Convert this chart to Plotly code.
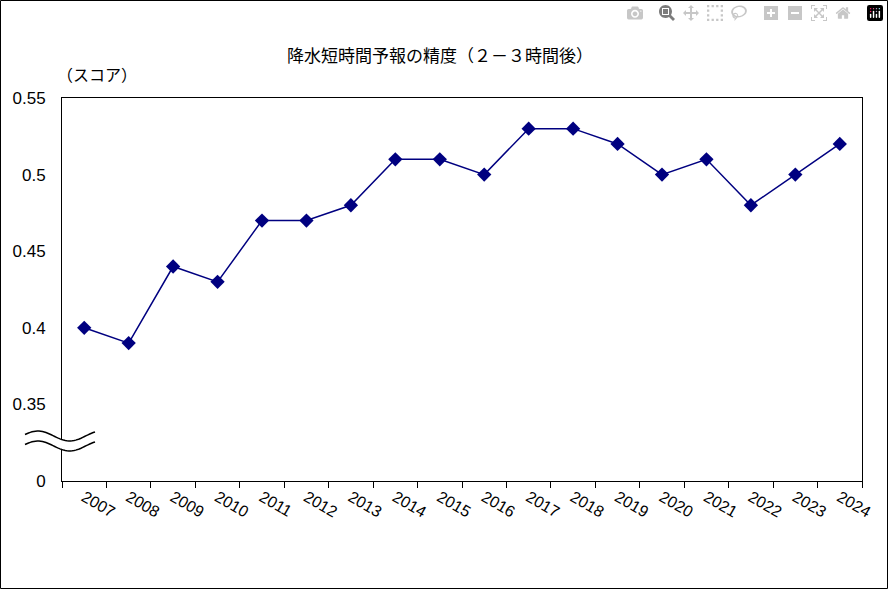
import plotly.graph_objects as go
import math

years = [str(y) for y in range(2007, 2025)]
scores = [0.40, 0.39, 0.44, 0.43, 0.47, 0.47, 0.48, 0.51, 0.51, 0.50,
          0.53, 0.53, 0.52, 0.50, 0.51, 0.48, 0.50, 0.52]
tick_vals = [0.30, 0.35, 0.40, 0.45, 0.50, 0.55]
tick_text = ["0", "0.35", "0.4", "0.45", "0.5", "0.55"]

W, H = 889, 590
L, R, T, B = 62, 27, 98, 109
pw, ph = W - L - R, H - T - B

def px(x):
    return (x - L) / pw

def py(y):
    return (H - B - y) / ph

fig = go.Figure(go.Scatter(
    x=years, y=scores, mode="lines+markers",
    line=dict(color="#000080", width=1.5),
    marker=dict(symbol="diamond", size=11, color="#000080"),
))

def wave(y0):
    pts = []
    for i in range(41):
        x = 25 + 70 * i / 40
        y = y0 - 5 * math.sin(2 * math.pi * (i / 40) * 1.1 + 0.3)
        pts.append((px(x), py(y)))
    return pts

w1 = wave(436)
w2 = wave(446)
fill_path = "M " + " L ".join(f"{a},{b}" for a, b in w1) + " L " + " L ".join(f"{a},{b}" for a, b in reversed(w2)) + " Z"
shapes = [
    dict(type="path", xref="paper", yref="paper", path=fill_path,
         fillcolor="white", line=dict(width=0)),
    dict(type="path", xref="paper", yref="paper",
         path="M " + " L ".join(f"{a},{b}" for a, b in w1), line=dict(color="black", width=1.5)),
    dict(type="path", xref="paper", yref="paper",
         path="M " + " L ".join(f"{a},{b}" for a, b in w2), line=dict(color="black", width=1.5)),
    dict(type="rect", xref="paper", yref="paper",
         x0=px(0.5), x1=px(W - 1.5), y0=py(H - 1.5), y1=py(0.5),
         line=dict(color="black", width=1)),
]

font = "Noto Sans CJK JP"
fig.update_layout(
    width=W, height=H, margin=dict(l=L, r=R, t=T, b=B),
    paper_bgcolor="white", plot_bgcolor="white", showlegend=False,
    font=dict(family=font, size=15, color="black"),
    shapes=shapes,
    annotations=[
        dict(text="降水短時間予報の精度（２－３時間後）", x=px(440), y=py(40),
             xref="paper", yref="paper", showarrow=False, font=dict(size=17)),
        dict(text="（スコア）", x=px(55), y=py(60), xref="paper", yref="paper",
             showarrow=False, font=dict(size=16)),
    ],
    xaxis=dict(type="category", showline=True, linecolor="black", mirror=True,
               ticks="outside", ticklen=6, tickcolor="black", showgrid=False,
               tickson="boundaries", tickfont=dict(family="Liberation Sans", size=16),
               range=[-0.5, 17.5]),
    yaxis=dict(range=[0.30, 0.55], tickvals=tick_vals, ticktext=tick_text,
               showline=True, linecolor="black", mirror=True, showgrid=False,
               ticks="", tickfont=dict(family="Liberation Sans", size=17),
               ticklabelstandoff=12),
)
fig.write_html("out.html",
               post_script="document.body.style.margin='0';document.body.style.overflow='hidden';")
